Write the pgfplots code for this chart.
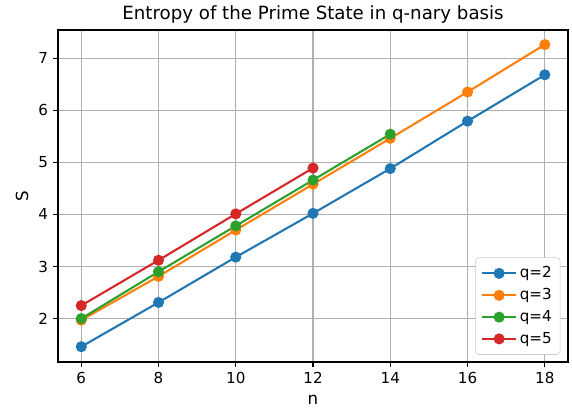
\documentclass[border=0pt]{standalone}
\usepackage{fontspec}
\setmainfont{DejaVu Sans}
\usepackage{pgfplots}
\pgfplotsset{compat=1.18}
\definecolor{c0}{HTML}{1F77B4}
\definecolor{c1}{HTML}{FF7F0E}
\definecolor{c2}{HTML}{2CA02C}
\definecolor{c3}{HTML}{D62728}
\begin{document}
\begin{tikzpicture}
\begin{axis}[
  scale only axis,
  width=367pt, height=239pt,
  xmin=5.4, xmax=18.6, ymin=1.165, ymax=7.54,
  xtick={6,8,10,12,14,16,18},
  ytick={2,3,4,5,6,7},
  grid=major,
  grid style={color=black!31, line width=0.8pt},
  axis line style={line width=1pt},
  tick style={black, line width=0.8pt},
  tick align=outside,
  major tick length=3.8pt,
  xtick pos=bottom, ytick pos=left,
  /pgf/number format/assume math mode=true,
  tick label style={font=\fontsize{10.9}{13}\selectfont},
  xlabel={n}, ylabel={S},
  every axis x label/.style={at={(axis description cs:0.5,-0.1146)}, anchor=center, font=\fontsize{12}{14}\selectfont},
  every axis y label/.style={at={(axis description cs:-0.0708,0.5)}, anchor=center, rotate=90, font=\fontsize{12}{14}\selectfont},
  title={Entropy of the Prime State in q-nary basis},
  every axis title/.style={at={(axis description cs:0.5,1.048)}, anchor=center, font=\fontsize{13.1}{15}\selectfont},
  legend style={at={(axis description cs:0.985,0.022)}, anchor=south east, font=\fontsize{10.9}{13}\selectfont, draw=black!20, rounded corners=2pt, inner xsep=4pt, inner ysep=4.5pt, row sep=2.2pt},
  legend cell align=left,
  legend image code/.code={\draw[#1] (0mm,0mm) -- (8.5mm,0mm); \draw[#1, mark repeat=1] plot coordinates {(4.25mm,0mm)};},
  every axis plot/.append style={line width=1.5pt, mark=*, mark size=3.2pt},
]
\addplot[color=c0, mark options={fill=c0, draw=c0}] coordinates {(6,1.46) (8,2.31) (10,3.18) (12,4.02) (14,4.88) (16,5.79) (18,6.68)};
\addlegendentry{q=2}
\addplot[color=c1, mark options={fill=c1, draw=c1}] coordinates {(6,1.97) (8,2.81) (10,3.70) (12,4.58) (14,5.46) (16,6.35) (18,7.26)};
\addlegendentry{q=3}
\addplot[color=c2, mark options={fill=c2, draw=c2}] coordinates {(6,2.00) (8,2.90) (10,3.78) (12,4.66) (14,5.54)};
\addlegendentry{q=4}
\addplot[color=c3, mark options={fill=c3, draw=c3}] coordinates {(6,2.25) (8,3.12) (10,4.01) (12,4.89)};
\addlegendentry{q=5}
\end{axis}
\pgfresetboundingbox
\path[use as bounding box] ([shift={(-41.8pt,-36pt)}]current axis.south west) rectangle ([shift={(2.9pt,21.6pt)}]current axis.north east);
\end{tikzpicture}
\end{document}
